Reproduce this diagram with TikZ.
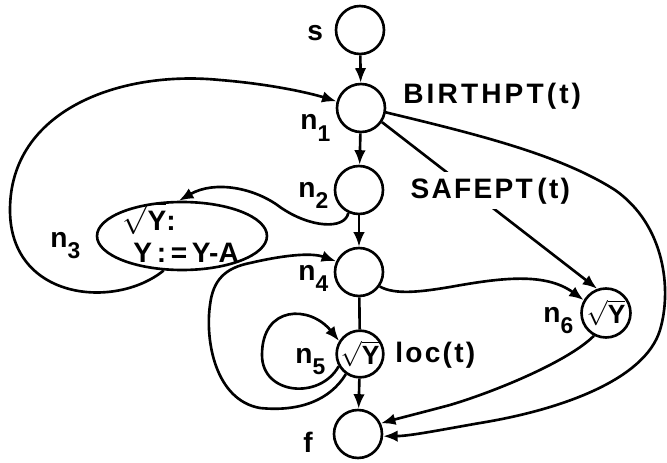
\documentclass[tikz,border=0pt]{standalone}
\usepackage{fontspec}
\setmainfont{Liberation Sans}
\usetikzlibrary{shapes.geometric,arrows.meta}
\newcommand\mynsub[1]{n\raisebox{-0.24cm}{\fontsize{13}{13}\selectfont #1}}
\newcommand\mysqrtY{$\sqrt{\mbox{Y}}$}
\begin{document}
\begin{tikzpicture}[x=0.02cm,y=-0.02cm,
  every node/.style={font=\bfseries\fontsize{16}{18}\selectfont},
  vert/.style={draw, circle, line width=1.5pt, minimum size=0.96cm, inner sep=0pt},
  conn/.style={line width=1.5pt},
  arr/.style={conn, -{Latex[length=2.9mm,width=2.3mm]}},
  lab/.style={anchor=base west, inner sep=0pt},
  widelab/.style={lab, font=\bfseries\fontsize{16}{18}\selectfont\addfontfeature{LetterSpace=8}},
]
\useasboundingbox (0,0) rectangle (667,463);
% vertices
\node[vert] (s) at (360,30) {};
\node[vert] (n1) at (361,108) {};
\node[vert] (n2) at (359,190) {};
\node[vert] (n4) at (359,272) {};
\node[vert, minimum size=0.9cm, font=\bfseries\fontsize{15}{15}\selectfont] (n5) at (360,354) {\mysqrtY};
\node[vert] (f) at (358,434) {};
\node[vert, minimum size=0.98cm, font=\bfseries\fontsize{15}{15}\selectfont] (n6) at (606,313) {\mysqrtY};
\node[draw, ellipse, line width=1.5pt, minimum width=3.4cm, minimum height=1.36cm, inner sep=0pt] (n3) at (182,236) {};
\node[lab] (n3a) at (122,230) {\mysqrtY:};
\node[lab] (n3b) at (133,262) {Y\,:\,=\,Y-A};
% labels
\node[lab] (ls) at (307,40) {s};
\node[lab] (l1) at (300,130) {\mynsub{1}};
\node[lab] (l2) at (298,197) {\mynsub{2}};
\node[lab] (l3) at (50,247) {\mynsub{3}};
\node[lab] (l4) at (298,280) {\mynsub{4}};
\node[lab] (l5) at (295,363) {\mynsub{5}};
\node[lab] (l6) at (543,322) {\mynsub{6}};
\node[lab] (lf) at (303,452) {f};
\node[lab, font=\bfseries\fontsize{16}{18}\selectfont\addfontfeature{LetterSpace=11}] (birth) at (403,103) {BIRTHPT(t)};
\node[widelab] (loc) at (395,362) {loc(t)};
% straight edges
\draw[arr] (s) -- (n1);
\draw[arr] (n1) -- (n2);
\draw[arr] (n2) -- (n4);
\draw[conn] (n4) -- (n5);
\draw[arr] (n5) -- (f);
% n1 -> n6 straight, under SAFEPT label
\draw[arr] (n1.-34) -- (n6.110);
\node[widelab, fill=white, inner sep=3pt] (safe) at (405,198) {SAFEPT\,(t)};
% n3 -> n1
\draw[arr] (n3.242) .. controls (115,310) and (10,300) .. (10,210)
  .. controls (10,110) and (120,70) .. (220,80)
  .. controls (270,84) and (310,93) .. (n1.165);
% n2 -> n3
\draw[arr] (n2.245) .. controls (345,230) and (310,228) .. (280,207)
  .. controls (255,188) and (215,180) .. (n3.95);
% n5 -> n4 big loop
\draw[arr] (n5.235) .. controls (330,400) and (300,412) .. (260,408)
  .. controls (215,400) and (205,340) .. (210,305)
  .. controls (213,280) and (225,268) .. (250,263)
  .. controls (280,256) and (310,252) .. (n4.155);
% n5 self loop
\draw[arr] (n5.210) .. controls (320,400) and (262,395) .. (262,355)
  .. controls (262,305) and (310,305) .. (n5.148);
% n4 -> n6
\draw[arr] (n4.-35) .. controls (395,295) and (420,292) .. (450,287)
  .. controls (500,278) and (545,272) .. (n6.150);
% n1 -> f
\draw[arr] (n1.-10) .. controls (480,135) and (560,155) .. (615,190)
  .. controls (665,225) and (672,290) .. (660,330)
  .. controls (645,380) and (560,410) .. (480,423)
  .. controls (440,430) and (410,436) .. (f.-5);
% n6 -> f
\draw[arr] (n6.242) .. controls (570,360) and (500,390) .. (450,405)
  .. controls (420,413) and (400,418) .. (f.25);
\end{tikzpicture}
\end{document}
